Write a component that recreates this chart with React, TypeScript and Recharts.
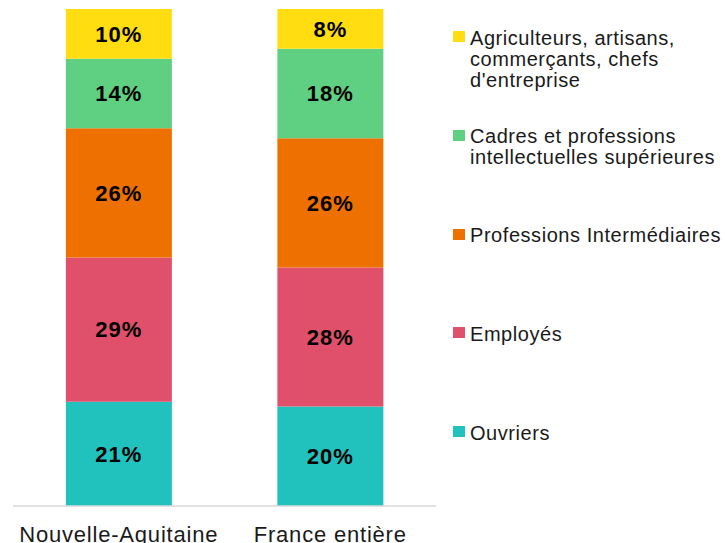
import React from 'react';
import { BarChart, Bar, XAxis, YAxis, LabelList, Legend } from 'recharts';

const categories = ['Nouvelle-Aquitaine', 'France entière'];
const ouvriers = [21, 20];
const employes = [29, 28];
const professionsIntermediaires = [26, 26];
const cadres = [14, 18];
const agriculteurs = [10, 8];

const seriesKeys = ['ouvriers', 'employes', 'profInter', 'cadres', 'agriculteurs'];
const seriesNames = [
  'Ouvriers',
  'Employés',
  'Professions Intermédiaires',
  'Cadres et professions intellectuelles supérieures',
  "Agriculteurs, artisans, commerçants, chefs d'entreprise",
];
const seriesColors = ['#21C1BD', '#E0506B', '#EE7100', '#5FD082', '#FFDD10'];

// Legend shown top-to-bottom (reverse of stacking order), with its line breaks
const legendLines: string[][] = [
  ['Agriculteurs, artisans,', 'commerçants, chefs', "d'entreprise"],
  ['Cadres et professions', 'intellectuelles supérieures'],
  ['Professions Intermédiaires'],
  ['Employés'],
  ['Ouvriers'],
];
const legendColors = [...seriesColors].reverse();

const data = categories.map((c, i) => ({
  name: c,
  ouvriers: ouvriers[i],
  employes: employes[i],
  profInter: professionsIntermediaires[i],
  cadres: cadres[i],
  agriculteurs: agriculteurs[i],
}));

const FONT = 'Liberation Sans, Arial, sans-serif';

const CustomTick = (props: any) => {
  const { x, y, payload } = props;
  return (
    <text
      x={x}
      y={y + 36}
      textAnchor="middle"
      fontFamily={FONT}
      fontSize={22}
      letterSpacing={0.8}
      fill="#1a1a1a"
    >
      {payload.value}
    </text>
  );
};

const LegendContent = () => (
  <div style={{ position: 'relative', width: 272, height: 543, fontFamily: FONT }}>
    {legendLines.map((lines, i) => {
      const top = 27.5 + 98.75 * i;
      return (
        <div key={i} style={{ position: 'absolute', left: 0, top }}>
          <div
            style={{
              position: 'absolute',
              left: 0,
              top: 3.5,
              width: 12,
              height: 11,
              background: legendColors[i],
            }}
          />
          <div
            style={{
              position: 'absolute',
              left: 17,
              top: 0,
              whiteSpace: 'nowrap',
              fontSize: 20,
              lineHeight: '21px',
              letterSpacing: 0.55,
              color: '#1a1a1a',
            }}
          >
            {lines.map((l, j) => (
              <div key={j}>{l}</div>
            ))}
          </div>
        </div>
      );
    })}
  </div>
);

export default function App() {
  return (
    <div style={{ position: 'absolute', left: 0, top: 0, width: 725, height: 543, background: '#fff' }}>
      <BarChart
        width={725}
        height={543}
        data={data}
        margin={{ top: 9, right: 289, bottom: 0, left: 13 }}
        barCategoryGap="25%"
      >
        <XAxis
          dataKey="name"
          height={37}
          tickSize={0}
          tickMargin={0}
          tickLine={false}
          axisLine={{ stroke: '#d9d9d9', strokeWidth: 1.5 }}
          tick={<CustomTick />}
          interval={0}
        />
        <YAxis hide domain={[0, 100]} />
        <Legend
          layout="horizontal"
          verticalAlign="middle"
          align="center"
          content={<LegendContent />}
          wrapperStyle={{ left: 453, top: 0, width: 272, height: 543 }}
        />
        {seriesKeys.map((k, i) => (
          <Bar
            key={k}
            dataKey={k}
            name={seriesNames[i]}
            stackId="a"
            fill={seriesColors[i]}
            isAnimationActive={false}
          >
            <LabelList
              dataKey={k}
              position="center"
              formatter={(v: any) => `${v}%`}
              fill="#000"
              fontFamily={FONT}
              fontSize={22}
              fontWeight="bold"
              letterSpacing={1}
            />
          </Bar>
        ))}
      </BarChart>
    </div>
  );
}
